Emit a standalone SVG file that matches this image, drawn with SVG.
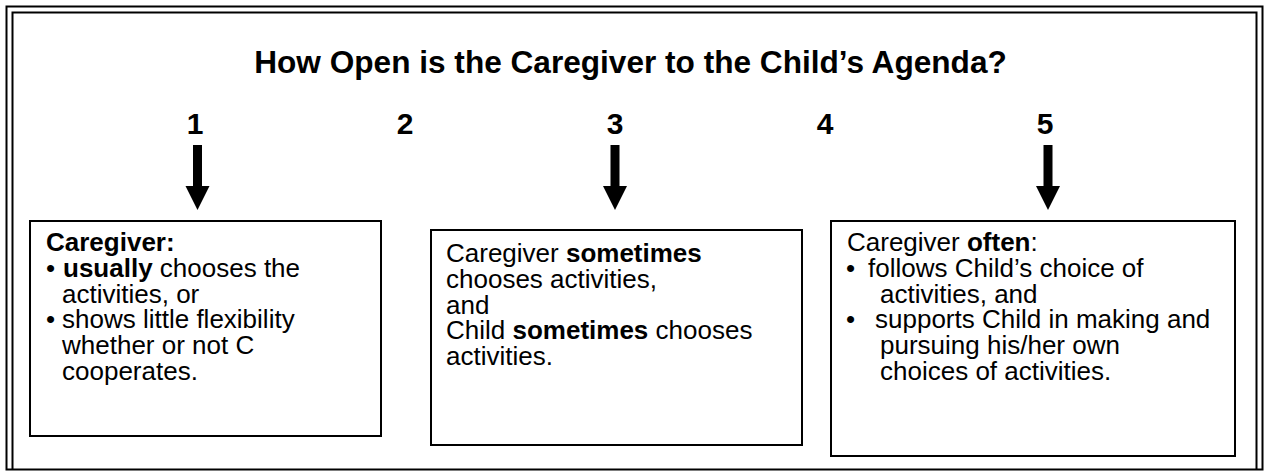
<svg xmlns="http://www.w3.org/2000/svg" width="1268" height="473" viewBox="0 0 1268 473">
<style>
text{font-family:"Liberation Sans",Arial,sans-serif;fill:#000}
.t{font-size:31.6px;font-weight:bold}
.n{font-size:30px;font-weight:bold;text-anchor:middle}
.b{font-size:26px}
.bold{font-weight:bold}
.box{fill:#fff;stroke:#000;stroke-width:2}
.frame{fill:none;stroke:#000;stroke-width:2}
</style>
<defs>
<g id="arrow"><rect x="-4.5" y="145" width="9" height="41" fill="#000"/><polygon points="-12,186 12,186 0,210" fill="#000"/></g>
</defs>
<rect width="1268" height="473" fill="#fff"/>
<g id="frame">
<rect class="frame" x="6.5" y="6.5" width="1256" height="463"/>
<path class="frame" d="M12.5,469 V12.5 H1256.5 V469"/>
</g>
<g id="title"><text class="t" x="630.5" y="73" text-anchor="middle">How Open is the Caregiver to the Child’s Agenda?</text></g>
<g id="scale">
<text class="n" x="195" y="134">1</text>
<text class="n" x="405" y="134">2</text>
<text class="n" x="615" y="134">3</text>
<text class="n" x="825" y="134">4</text>
<text class="n" x="1045" y="134">5</text>
</g>
<g id="connectors">
<use href="#arrow" x="197.5"/>
<use href="#arrow" x="615"/>
<use href="#arrow" x="1048"/>
</g>
<g id="box1">
<rect class="box" x="30" y="221" width="351" height="215"/>
<text class="b" x="46" y="251"><tspan class="bold">Caregiver:</tspan></text>
<text class="b" x="46" y="276.7">•</text>
<text class="b" x="63" y="276.7"><tspan class="bold">usually</tspan> chooses the</text>
<text class="b" x="62" y="302.5">activities, or</text>
<text class="b" x="46" y="328">•</text>
<text class="b" x="62" y="328">shows little flexibility</text>
<text class="b" x="62" y="354">whether or not C</text>
<text class="b" x="62" y="379.5">cooperates.</text>
</g>
<g id="box2">
<rect class="box" x="431" y="230" width="371" height="215"/>
<text class="b" x="446" y="261.5">Caregiver <tspan class="bold">sometimes</tspan></text>
<text class="b" x="446" y="288">chooses activities,</text>
<text class="b" x="446" y="313.5">and</text>
<text class="b" x="446" y="339">Child <tspan class="bold">sometimes</tspan> chooses</text>
<text class="b" x="446" y="365">activities.</text>
</g>
<g id="box3">
<rect class="box" x="831" y="221" width="404" height="235"/>
<text class="b" x="847" y="251">Caregiver <tspan class="bold">often</tspan>:</text>
<text class="b" x="846" y="276.7">•</text>
<text class="b" x="868" y="276.7">follows Child’s choice of</text>
<text class="b" x="880" y="302.5">activities, and</text>
<text class="b" x="846" y="328">•</text>
<text class="b" x="875" y="328">supports Child in making and</text>
<text class="b" x="880" y="354">pursuing his/her own</text>
<text class="b" x="880" y="379.5">choices of activities.</text>
</g>
</svg>
